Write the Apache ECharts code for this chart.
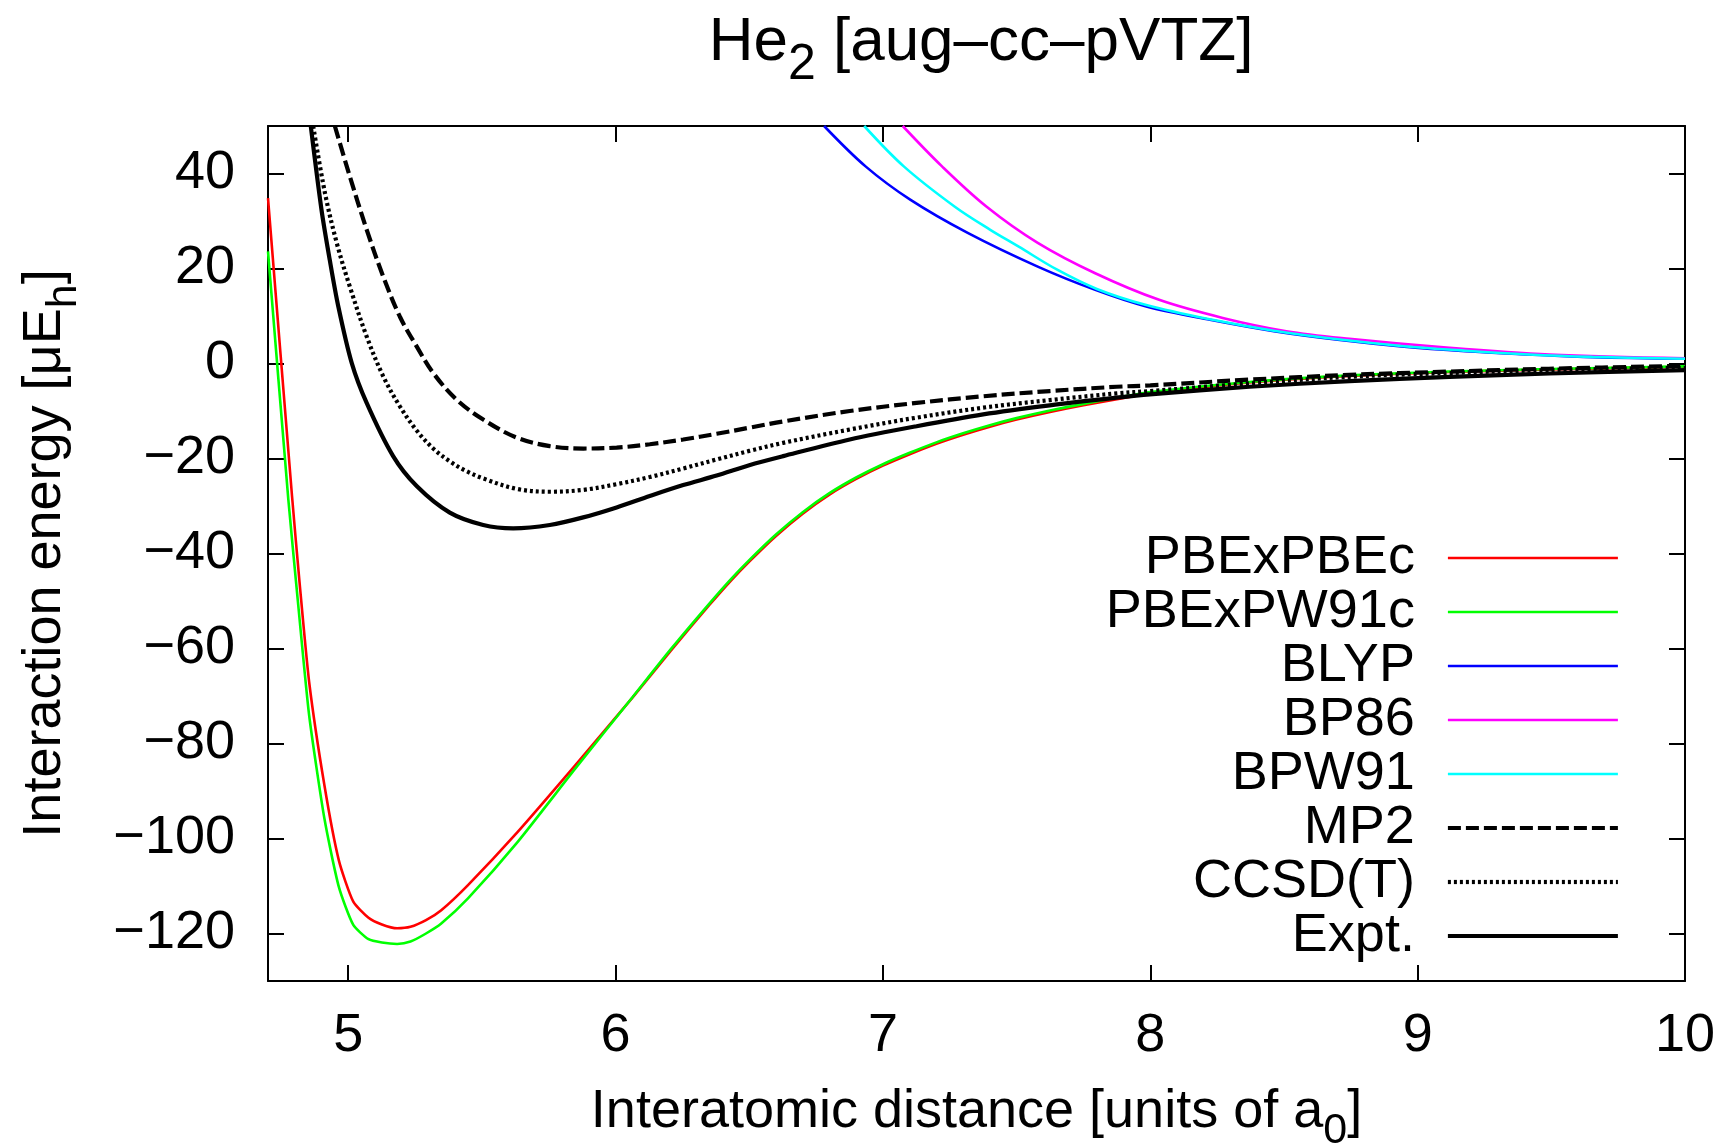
<!DOCTYPE html>
<html><head><meta charset="utf-8">
<script src="https://cdn.jsdelivr.net/npm/echarts@6/dist/echarts.min.js"></script>
<style>html,body{margin:0;padding:0;background:#fff}#c{width:1728px;height:1147px}</style>
</head><body><div id="c"></div>
<script>
const titleText = '{m|He}{s|2}{m| [aug\u2013cc\u2013pVTZ]}';
const xName = '{m|Interatomic distance [units of a}{s|0}{m|]}';
const yName = '{m|Interaction energy [\u03bcE}{s|h}{m|]}';
const seriesNames = ['PBExPBEc','PBExPW91c','BLYP','BP86','BPW91','MP2','CCSD(T)','Expt.'];
const xTicks = [5,6,7,8,9,10];
const yTicks = [-120,-100,-80,-60,-40,-20,0,20,40];
const xRange = [4.7, 10];
const yRange = [-130, 50];

const pbexpbec = [[4.70,34.8],[4.79,-28.0],[4.818,-46.1],[4.854,-67.1],[4.911,-88.8],[4.965,-104.6],[5.019,-113.3],[5.076,-116.7],[5.126,-118.1],[5.183,-118.9],[5.233,-118.6],[5.291,-117.2],[5.348,-115.1],[5.448,-109.8],[5.634,-98.6],[5.849,-84.6],[6.064,-70.3],[6.206,-60.5],[6.35,-50.9],[6.43,-45.8],[6.50,-41.7],[6.60,-36.3],[6.70,-31.6],[6.80,-27.6],[6.90,-24.3],[7.00,-21.5],[7.10,-19.1],[7.20,-16.9],[7.30,-15.0],[7.40,-13.3],[7.50,-11.8],[7.625,-10.2],[7.75,-8.8],[7.875,-7.5],[8.0,-6.3],[8.37,-4.0],[8.745,-2.6],[9.12,-1.8],[9.49,-1.25],[10,-0.7]];
const pbexpw91c = [[4.70,23.6],[4.776,-28.6],[4.811,-49.6],[4.854,-74.1],[4.911,-95.8],[4.965,-110.2],[5.019,-118.2],[5.076,-121.2],[5.126,-121.9],[5.183,-122.2],[5.233,-121.7],[5.291,-120.0],[5.348,-117.9],[5.448,-112.6],[5.634,-100.7],[5.849,-85.3],[6.064,-70.2],[6.206,-60.2],[6.35,-50.6],[6.43,-45.5],[6.50,-41.4],[6.60,-36.0],[6.70,-31.3],[6.80,-27.3],[6.90,-24.0],[7.00,-21.2],[7.10,-18.8],[7.20,-16.6],[7.30,-14.7],[7.40,-13.0],[7.50,-11.5],[7.625,-9.9],[7.75,-8.5],[7.875,-7.2],[8.0,-6.0],[8.37,-3.9],[8.745,-2.5],[9.12,-1.7],[9.49,-1.15],[10,-0.6]];
const blyp = [[6.78,50],[6.935,41.5],[7.102,34.5],[7.317,27.5],[7.579,20.4],[7.794,15.5],[7.985,12.0],[8.223,9.2],[8.462,6.8],[8.701,5.0],[8.939,3.6],[9.178,2.6],[9.416,1.9],[9.654,1.3],[10,1.0]];
const bp86 = [[7.074,50],[7.221,41.5],[7.388,33.0],[7.579,25.4],[7.794,19.0],[8.033,13.4],[8.271,9.6],[8.509,6.8],[8.745,5.2],[9.119,3.3],[9.493,1.9],[10,1.1]];
const bpw91 = [[6.93,50],[7.078,41.5],[7.269,33.0],[7.40,28.2],[7.508,24.6],[7.65,19.8],[7.80,15.7],[7.985,12.3],[8.223,9.3],[8.462,6.9],[8.701,5.1],[8.939,3.7],[9.178,2.7],[9.416,1.9],[9.654,1.4],[10,1.0]];
const mp2 = [[4.95,50],[5.006,39.4],[5.069,28.2],[5.131,18.3],[5.193,9.9],[5.256,3.6],[5.318,-2.0],[5.405,-7.6],[5.505,-11.8],[5.630,-15.6],[5.754,-17.4],[5.880,-17.9],[6.004,-17.7],[6.128,-17.0],[6.253,-16.0],[6.378,-14.8],[6.502,-13.5],[6.627,-12.2],[6.876,-10.0],[7.126,-8.3],[7.375,-6.9],[7.624,-5.8],[7.874,-4.9],[8.0,-4.6],[8.37,-3.4],[8.745,-2.4],[9.12,-1.7],[9.49,-1.1],[10,-0.5]];
const ccsdt = [[4.869,50],[4.913,35.9],[4.957,25.4],[5.006,16.2],[5.069,5.7],[5.131,-2.7],[5.193,-9.0],[5.256,-14.1],[5.318,-17.9],[5.380,-20.6],[5.44,-22.6],[5.505,-24.2],[5.630,-26.4],[5.754,-27.0],[5.880,-26.6],[6.004,-25.4],[6.128,-23.9],[6.253,-22.1],[6.378,-20.2],[6.50,-18.4],[6.627,-16.7],[6.876,-13.9],[7.126,-11.4],[7.375,-9.3],[7.624,-7.7],[7.874,-6.3],[8.0,-5.8],[8.37,-4.2],[8.745,-2.8],[9.12,-2.0],[9.49,-1.4],[10,-0.9]];
const expt = [[4.86,50],[4.90,32.4],[4.931,21.8],[4.963,12.0],[5.013,0.15],[5.069,-8.3],[5.168,-19.5],[5.256,-25.8],[5.38,-31.4],[5.505,-34.0],[5.617,-34.7],[5.754,-34.0],[5.879,-32.4],[6.004,-30.3],[6.128,-27.9],[6.253,-25.6],[6.378,-23.6],[6.50,-21.4],[6.627,-19.5],[6.876,-16.0],[7.126,-13.2],[7.375,-10.7],[7.624,-8.8],[7.874,-7.2],[7.998,-6.5],[8.371,-4.9],[8.745,-3.7],[9.119,-2.8],[9.493,-2.1],[10,-1.4]];

const FONT = "'Liberation Sans', Arial, Helvetica, sans-serif";
const seriesData = [pbexpbec, pbexpw91c, blyp, bp86, bpw91, mp2, ccsdt, expt];
const colors = ['#ff0000','#00ff00','#0000ff','#ff00ff','#00ffff','#000000','#000000','#000000'];
const widths = [2.6,2.6,2.6,2.6,2.6,4.2,4.2,4.2];
const dashes = ['solid','solid','solid','solid','solid',[13,5],[3,3],'solid'];
const smoothing = [0.2,0.2,0.35,0.35,0.35,0.35,0.35,0.3];

function richStyle(main, sub, pad) {
  return {
    m: {fontFamily: FONT, fontSize: main, fontWeight: 'normal', lineHeight: main, verticalAlign: 'top', color: '#000'},
    s: {fontFamily: FONT, fontSize: sub, fontWeight: 'normal', padding: [pad, 0, 0, 0], lineHeight: sub + pad, verticalAlign: 'top', color: '#000'}
  };
}
const tickFmt = v => (v < 0 ? '\u2212' + Math.abs(v) : String(v));
const axisLineStyle = {color: '#000', width: 2};

const chart = echarts.init(document.getElementById('c'), null, {renderer: 'canvas'});
chart.setOption({
  animation: false,
  backgroundColor: '#fff',
  title: {
    text: titleText, left: 976, top: 7, textAlign: 'center',
    textStyle: {fontWeight: 'normal', rich: richStyle(62, 50, 28)}
  },
  grid: {left: 268, right: 43, top: 126, bottom: 166, containLabel: false, outerBoundsMode: 'none'},
  legend: {
    orient: 'vertical', right: 108, top: 531, padding: 0, itemGap: 0,
    itemWidth: 170, itemHeight: 14, align: 'right', selectedMode: false,
    itemStyle: {opacity: 0},
    data: seriesNames.map((n, i) => ({
      name: n,
      itemStyle: {opacity: 0},
      lineStyle: {color: colors[i], width: widths[i], type: dashes[i]}
    })),
    textStyle: {fontFamily: FONT, fontSize: 54, color: '#000', lineHeight: 54, padding: [0, 28, 0, 0]}
  },
  xAxis: [{
    type: 'value', min: xRange[0], max: xRange[1], position: 'bottom',
    name: xName, nameLocation: 'middle', nameGap: 104,
    nameTextStyle: {rich: richStyle(54, 43, 25)},
    axisLine: {show: true, onZero: false, lineStyle: axisLineStyle},
    axisTick: {show: true, inside: true, length: 16, lineStyle: axisLineStyle, customValues: xTicks},
    axisLabel: {show: true, customValues: xTicks, formatter: tickFmt, fontFamily: FONT, fontSize: 54, color: '#000', margin: 28},
    splitLine: {show: false}
  }, {
    type: 'value', min: xRange[0], max: xRange[1], position: 'top',
    axisLine: {show: true, onZero: false, lineStyle: axisLineStyle},
    axisTick: {show: true, inside: true, length: 16, lineStyle: axisLineStyle, customValues: xTicks},
    axisLabel: {show: false}, splitLine: {show: false}
  }],
  yAxis: [{
    type: 'value', min: yRange[0], max: yRange[1], position: 'left',
    name: yName, nameLocation: 'middle', nameGap: 182,
    nameTextStyle: {rich: richStyle(54, 43, 25)},
    axisLine: {show: true, onZero: false, lineStyle: axisLineStyle},
    axisTick: {show: true, inside: true, length: 16, lineStyle: axisLineStyle, customValues: yTicks},
    axisLabel: {show: true, customValues: yTicks, formatter: tickFmt, fontFamily: FONT, fontSize: 54, color: '#000', margin: 33},
    splitLine: {show: false}
  }, {
    type: 'value', min: yRange[0], max: yRange[1], position: 'right',
    axisLine: {show: true, onZero: false, lineStyle: axisLineStyle},
    axisTick: {show: true, inside: true, length: 16, lineStyle: axisLineStyle, customValues: yTicks},
    axisLabel: {show: false}, splitLine: {show: false}
  }],
  series: seriesNames.map((name, i) => ({
    name: name, type: 'line', xAxisIndex: 0, yAxisIndex: 0,
    data: seriesData[i], symbol: 'none', showSymbol: false, smooth: smoothing[i], clip: true,
    lineStyle: {color: colors[i], width: widths[i], type: dashes[i], cap: 'butt'},
    itemStyle: {color: colors[i]},
    emphasis: {disabled: true}, z: 2 + i
  }))
});
</script></body></html>
